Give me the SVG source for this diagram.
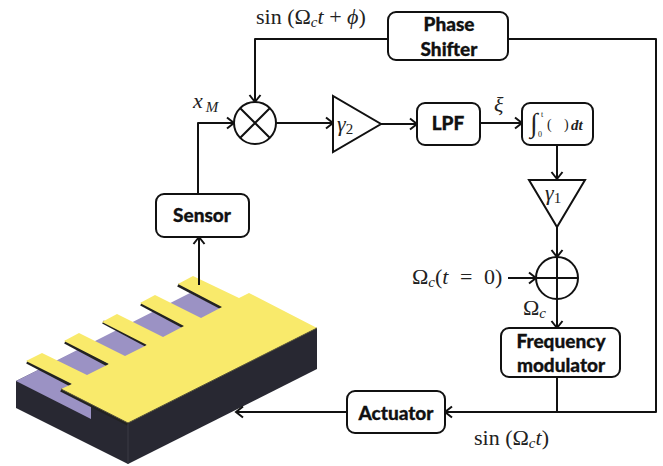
<svg xmlns="http://www.w3.org/2000/svg" width="663" height="466" viewBox="0 0 663 466">
<style>
.b{fill:#fff;stroke:#111;stroke-width:2}
.l{fill:none;stroke:#111;stroke-width:2;stroke-linejoin:round}
.a{marker-end:url(#ah)}
.t{font-family:Lato,"Open Sans","Liberation Sans",sans-serif;font-weight:900;font-size:19px;fill:#111;stroke:#111;stroke-width:.3;text-anchor:middle}
.m{font-family:"Liberation Serif","DejaVu Serif",serif;font-size:22px;fill:#222}
.i{font-style:italic}
.s{font-size:15px}
</style>
<defs>
<marker id="ah" markerUnits="userSpaceOnUse" markerWidth="12" markerHeight="14" refX="10" refY="7" orient="auto"><path d="M3 1.5 L10 7 L3 12.5" fill="none" stroke="#111" stroke-width="2"/></marker>
</defs>
<rect width="663" height="466" fill="#fff"/>
<g id="device">
<polygon points="16,381 16,408 128,464 317,369 317,328 180,300" fill="#282832"/>
<polygon points="16,381 190,293 240,318 91,406 91,419" fill="#9b92c4"/>
<g stroke="#222" stroke-width="3.5" fill="none">
<line x1="27" y1="362" x2="71" y2="385"/><line x1="65" y1="342" x2="108" y2="365"/><line x1="103" y1="322" x2="146" y2="345"/><line x1="141" y1="304" x2="184" y2="327"/><line x1="178" y1="285" x2="222" y2="308"/><line x1="61" y1="390" x2="128" y2="424"/>
</g>
<polygon points="178,284 193,276 239,298 249,293 317,328 128,423 61,389 72,384 26,361 42,353 87,375 109,364 64,341 79,333 125,356 147,345 102,322 117,314 163,337 184,326 140,303 155,295 201,318 222,307" fill="#f9ea6b"/>
<path d="M61 389L128 423L317 328" fill="none" stroke="#55523a" stroke-width="1"/>
<line x1="128" y1="424" x2="128" y2="464" stroke="#3a3a44" stroke-width="1"/>
</g>
<g id="connectors">
<path class="l a" d="M388 39H255V102"/>
<path class="l a" d="M198 194V123H234"/>
<path class="l a" d="M199 285V237"/>
<path class="l a" d="M276 123H333"/>
<path class="l a" d="M381 124H417"/>
<path class="l a" d="M480 123H522"/>
<path class="l a" d="M557 145V179"/>
<path class="l a" d="M557 227V257"/>
<path class="l a" d="M508 278H536"/>
<path class="l a" d="M557 299V328"/>
<path class="l" d="M557 377V412"/>
<path class="l a" d="M508 39H656V412H445"/>
<path class="l a" d="M347 412H236"/>
</g>
<g id="phase-shifter"><rect class="b" x="388" y="12" width="120" height="48" rx="8"/><text class="t" x="449" y="31">Phase</text><text class="t" x="449" y="56">Shifter</text></g>
<g id="mixer"><circle class="b" cx="255" cy="123" r="21"/><path class="l" d="M240 108L270 138M270 108L240 138"/></g>
<g id="gain2"><polygon class="b" points="333,96 333,152 381,124"/><text class="m" x="337" y="131"><tspan class="i">γ</tspan><tspan class="s" dy="3">2</tspan></text></g>
<g id="lpf"><rect class="b" x="417" y="103" width="63" height="42" rx="8"/><text class="t" x="448" y="130">LPF</text></g>
<g id="integrator"><rect class="b" x="522" y="103" width="71" height="42" rx="8"/><text class="m" x="530" y="132" style="font-size:27px">∫</text><text class="m" x="541" y="117" style="font-size:8px">t</text><text class="m" x="538" y="137" style="font-size:8px">0</text><text class="m" x="547" y="129" style="font-size:14px">(</text><text class="m" x="564" y="129" style="font-size:14px">)</text><text class="m i" x="571" y="130" style="font-size:15px;font-weight:bold">dt</text></g>
<g id="gain1"><polygon class="b" points="529,180 585,180 557,227"/><text class="m" x="545" y="200"><tspan class="i">γ</tspan><tspan class="s" dy="3">1</tspan></text></g>
<g id="adder"><circle class="b" cx="557" cy="278" r="21"/><path class="l" d="M557 257V299M536 278H578"/></g>
<g id="sensor"><rect class="b" x="156" y="194" width="93" height="43" rx="8"/><text class="t" x="202" y="222">Sensor</text></g>
<g id="frequency-modulator"><rect class="b" x="501" y="328" width="119" height="49" rx="8"/><text class="t" x="561" y="348">Frequency</text><text class="t" x="561" y="372">modulator</text></g>
<g id="actuator"><rect class="b" x="347" y="391" width="98" height="42" rx="8"/><text class="t" x="396" y="420">Actuator</text></g>
<g id="labels">
<text class="m" x="256" y="24">sin (Ω<tspan class="i s" dy="3">c</tspan><tspan class="i" dy="-3">t</tspan> + <tspan class="i">ϕ</tspan>)</text>
<text class="m i" x="193" y="108">x<tspan class="s" dx="3" dy="4">M</tspan></text>
<text class="m i" x="494" y="112">ξ</text>
<text class="m" x="412" y="284">Ω<tspan class="i s" dy="3">c</tspan><tspan dy="-3">(</tspan><tspan class="i">t</tspan><tspan dx="6"> = </tspan><tspan dx="6">0)</tspan></text>
<text class="m" x="523" y="315">Ω<tspan class="i s" dy="3">c</tspan></text>
<text class="m" x="474" y="445">sin (Ω<tspan class="i s" dy="3">c</tspan><tspan class="i" dy="-3">t</tspan>)</text>
</g>
</svg>
